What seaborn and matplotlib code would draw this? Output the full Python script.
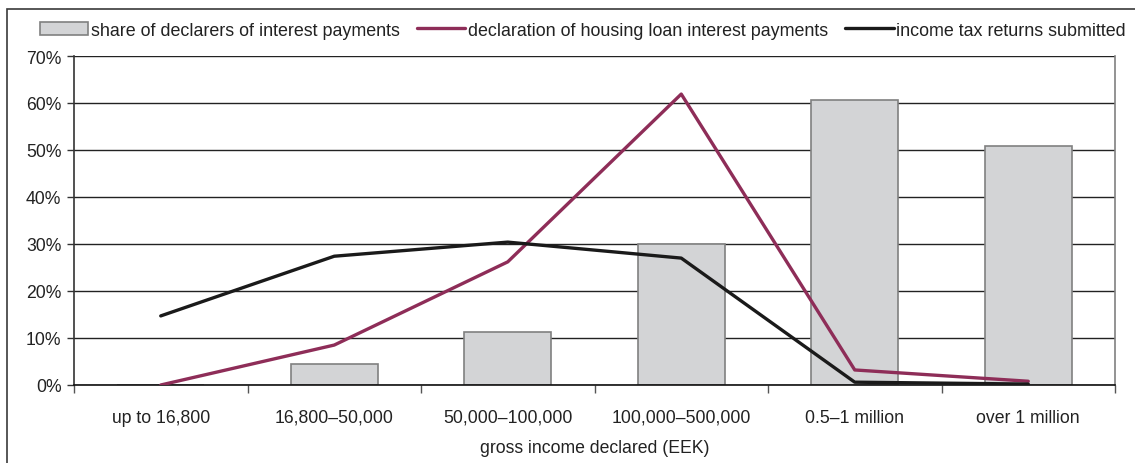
import pandas as pd
import matplotlib
matplotlib.use('Agg')
import matplotlib.pyplot as plt
import seaborn as sns
from matplotlib.patches import Rectangle
from matplotlib.ticker import FixedLocator, PercentFormatter

# Data (percent)
categories = ['up to 16,800', '16,800\u201350,000', '50,000\u2013100,000',
              '100,000\u2013500,000', '0.5\u20131 million', 'over 1 million']
share_declarers = [0.0, 4.5, 11.3, 30.0, 60.6, 50.8]
housing_loan = [0.0, 8.5, 26.2, 61.9, 3.2, 0.8]
tax_returns = [14.7, 27.4, 30.4, 27.0, 0.6, 0.2]

df = pd.DataFrame({
    'income': categories,
    'share': share_declarers,
    'housing': housing_loan,
    'returns': tax_returns,
})

sns.set_theme(style='white')
plt.rcParams['font.family'] = ['Liberation Sans', 'DejaVu Sans']

fig = plt.figure(figsize=(11.35, 4.64), dpi=100)
ax = fig.add_axes([74 / 1135, 1 - 386 / 464, (1115 - 74) / 1135, (386 - 57) / 464])

# outer frame
fig.patches.append(Rectangle((7 / 1135, -0.2), 1.3, 1.2 - 10 / 464,
                             transform=fig.transFigure, fill=False,
                             edgecolor='#3a3a3a', linewidth=1.2, zorder=0))

ax.yaxis.grid(True, color='#222222', linewidth=1.0, zorder=0)
ax.set_axisbelow(True)

sns.barplot(data=df, x='income', y='share', ax=ax, color='#d3d4d6',
            edgecolor='#808080', linewidth=1.2, width=0.5, saturation=1,
            label='share of declarers of interest payments', zorder=2)
sns.pointplot(data=df, x='income', y='housing', ax=ax, color='#8e2d58',
              marker='', linewidth=2.4, errorbar=None,
              label='declaration of housing loan interest payments')
sns.pointplot(data=df, x='income', y='returns', ax=ax, color='#1a1a1a',
              marker='', linewidth=2.4, errorbar=None,
              label='income tax returns submitted')
for ln in ax.lines:
    ln.set_zorder(3)
if ax.get_legend() is not None:
    ax.get_legend().remove()

ax.set_xlim(-0.5, len(categories) - 0.5)
ax.set_ylim(0, 70)
ax.yaxis.set_major_locator(FixedLocator(range(0, 71, 10)))
ax.yaxis.set_major_formatter(PercentFormatter(decimals=0))

ax.xaxis.set_minor_locator(FixedLocator([i - 0.5 for i in range(len(categories) + 1)]))
ax.tick_params(axis='x', which='major', length=0, pad=17, labelsize=12.7, colors='#222222')
ax.tick_params(axis='x', which='minor', length=6, width=1, color='#555555', direction='out', bottom=True)
ax.tick_params(axis='y', length=5, width=1, color='#333333', direction='out', left=True,
               labelsize=12.7, labelcolor='#222222', pad=4)

ax.set_xlabel('gross income declared (EEK)', fontsize=12.7, color='#222222', labelpad=9.5)
ax.set_ylabel('')

ax.spines['top'].set_visible(False)
ax.spines['left'].set_color('#333333')
ax.spines['left'].set_linewidth(1.2)
ax.spines['right'].set_color('#808080')
ax.spines['right'].set_linewidth(1.2)
ax.spines['bottom'].set_color('#111111')
ax.spines['bottom'].set_linewidth(1.2)

handles, labels = ax.get_legend_handles_labels()
order = [labels.index('share of declarers of interest payments'),
         labels.index('declaration of housing loan interest payments'),
         labels.index('income tax returns submitted')]
fig.legend([handles[i] for i in order], [labels[i] for i in order],
           loc='center', bbox_to_anchor=(583 / 1135, 1 - 31 / 464),
           ncol=3, frameon=False, fontsize=12.9, handlelength=2.7, handleheight=0.7,
           handletextpad=0.15, columnspacing=0.95, labelcolor='#222222')

fig.savefig('out.png', dpi=100)
